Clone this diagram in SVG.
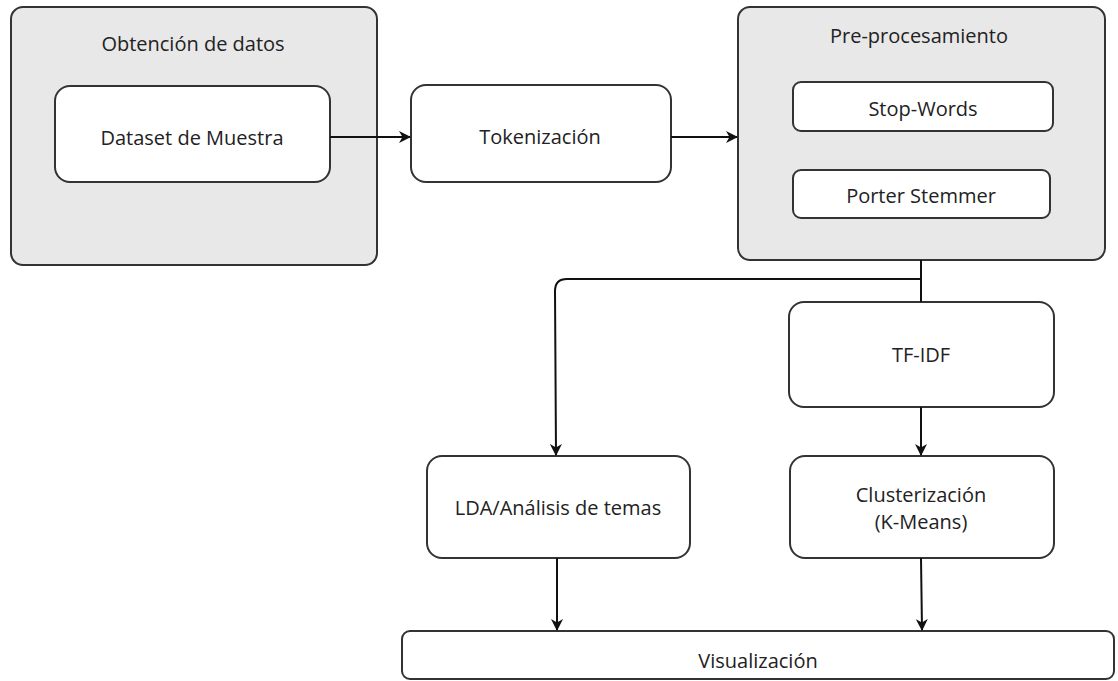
<svg xmlns="http://www.w3.org/2000/svg" width="1118" height="681" viewBox="0 0 1118 681">
<defs>
<style>
.box{fill:#ffffff;stroke:#333333;stroke-width:2}
.grp{fill:#e8e8e8;stroke:#333333;stroke-width:2}
.t{font-family:"Open Sans","Noto Sans","DejaVu Sans",sans-serif;font-size:20px;fill:#222222;text-anchor:middle;dominant-baseline:central}
.c{fill:none;stroke:#111111;stroke-width:2}
</style>
<marker id="ah" viewBox="0 0 12 12" refX="11" refY="6" markerWidth="12" markerHeight="12" markerUnits="userSpaceOnUse" orient="auto">
<path d="M0,0 L12,6 L0,12 L3.5,6 Z" fill="#111111"/>
</marker>
</defs>
<rect width="1118" height="681" fill="#ffffff"/>
<g id="obtencion">
<rect class="grp" x="11" y="7" width="366" height="258" rx="12"/>
<text class="t" x="193" y="43">Obtención de datos</text>
</g>
<g id="dataset">
<rect class="box" x="55" y="86" width="275" height="96" rx="15"/>
<text class="t" x="192" y="137">Dataset de Muestra</text>
</g>
<g id="tokenizacion">
<rect class="box" x="411" y="85" width="260" height="97" rx="15"/>
<text class="t" x="540" y="136">Tokenización</text>
</g>
<g id="preprocesamiento">
<rect class="grp" x="738" y="7" width="367" height="253" rx="12"/>
<text class="t" x="919" y="35">Pre-procesamiento</text>
</g>
<g id="stopwords">
<rect class="box" x="793" y="82" width="260" height="49" rx="8"/>
<text class="t" x="923" y="108">Stop-Words</text>
</g>
<g id="porter">
<rect class="box" x="793" y="170" width="257" height="48" rx="8"/>
<text class="t" x="921" y="195">Porter Stemmer</text>
</g>
<g id="tfidf">
<rect class="box" x="789" y="302" width="265" height="105" rx="15"/>
<text class="t" x="921" y="354">TF-IDF</text>
</g>
<g id="lda">
<rect class="box" x="427" y="456" width="263" height="102" rx="15"/>
<text class="t" x="558" y="507">LDA/Análisis de temas</text>
</g>
<g id="cluster">
<rect class="box" x="790" y="456" width="264" height="102" rx="15"/>
<text class="t" x="921" y="494">Clusterización</text>
<text class="t" x="921" y="521">(K-Means)</text>
</g>
<g id="visualizacion">
<rect class="box" x="402" y="631" width="712" height="48" rx="8"/>
<text class="t" x="758" y="660">Visualización</text>
</g>
<g id="connectors">
<path class="c" d="M330,137 L410,137" marker-end="url(#ah)"/>
<path class="c" d="M671,137 L737,137" marker-end="url(#ah)"/>
<path class="c" d="M921,260 L921,302"/>
<path class="c" d="M921,279 L567,279 Q555,279 555,291 L556,455" marker-end="url(#ah)"/>
<path class="c" d="M921,407 L921,455" marker-end="url(#ah)"/>
<path class="c" d="M557,558 L557,630" marker-end="url(#ah)"/>
<path class="c" d="M921,558 L922,630" marker-end="url(#ah)"/>
</g>
</svg>
